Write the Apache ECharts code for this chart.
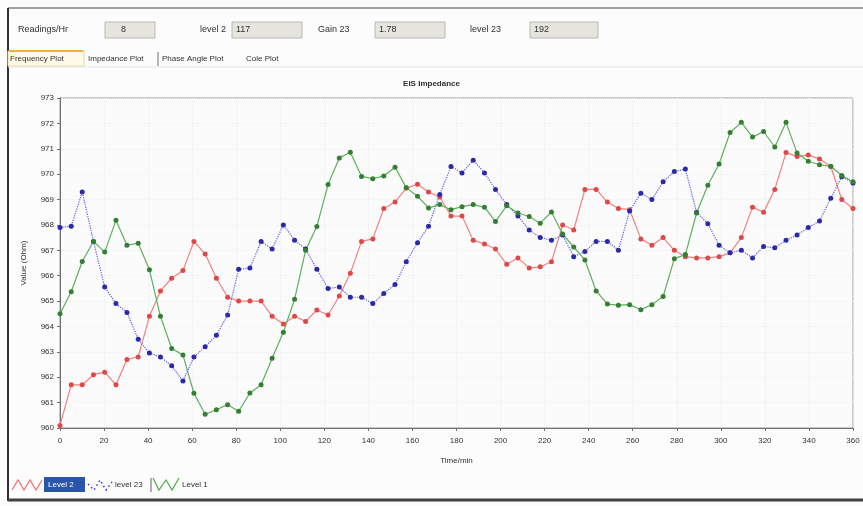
<!DOCTYPE html>
<html>
<head>
<meta charset="utf-8">
<script src="https://cdn.jsdelivr.net/npm/echarts@6/dist/echarts.min.js"></script>
<style>
html,body{margin:0;padding:0;background:#fcfcfc;}
#c{width:863px;height:506px;}
</style>
</head>
<body>
<div id="c"></div>
<script>
// ---- data ----
var xValues = [0,5.1,10.1,15.2,20.3,25.4,30.4,35.5,40.6,45.6,50.7,55.8,60.8,65.9,71.0,76.1,81.1,86.2,91.3,96.3,
  101.4,106.5,111.5,116.6,121.7,126.8,131.8,136.9,142.0,147.0,152.1,157.2,162.3,167.3,172.4,177.5,182.5,187.6,192.7,197.7,
  202.8,207.9,213.0,218.0,223.1,228.2,233.2,238.3,243.4,248.5,253.5,258.6,263.7,268.7,273.8,278.9,283.9,289.0,294.1,299.2,
  304.2,309.3,314.4,319.4,324.5,329.6,334.6,339.7,344.8,349.9,354.9,360.0];
var seriesNames = ['Level 2', 'level 23', 'Level 1'];
var redValues = [960.1,961.7,961.7,962.1,962.2,961.7,962.7,962.8,964.4,965.4,965.9,966.2,967.35,966.85,965.9,965.15,965.0,965.0,965.0,964.4,
  964.1,964.4,964.2,964.65,964.45,965.2,966.1,967.35,967.45,968.65,968.9,969.45,969.6,969.3,969.1,968.35,968.35,967.4,967.25,967.05,
  966.45,966.7,966.3,966.35,966.55,968.0,967.8,969.4,969.4,968.9,968.65,968.6,967.45,967.2,967.5,967.0,966.75,966.7,966.7,966.75,
  966.9,967.5,968.7,968.5,969.4,970.85,970.7,970.75,970.6,970.3,969.0,968.65];
var blueValues = [967.9,967.95,969.3,967.35,965.55,964.9,964.55,963.5,962.95,962.8,962.45,961.85,962.8,963.2,963.65,964.45,966.25,966.3,967.35,967.05,
  968.0,967.4,967.05,966.25,965.5,965.55,965.15,965.15,964.9,965.3,965.65,966.55,967.3,967.95,969.2,970.3,970.05,970.55,970.05,969.4,
  968.8,968.35,967.8,967.5,967.4,967.6,966.75,966.95,967.35,967.35,967.0,968.55,969.25,969.0,969.7,970.1,970.2,968.5,968.05,967.2,
  966.9,967.0,966.7,967.15,967.1,967.4,967.6,967.9,968.15,969.05,969.9,969.65];
var greenValues = [964.5,965.37,966.56,967.35,966.93,968.18,967.2,967.28,966.23,964.4,963.13,962.88,961.37,960.54,960.72,960.92,960.66,961.38,961.7,962.75,
  963.77,965.07,967.0,967.94,969.59,970.64,970.86,969.91,969.82,969.93,970.27,969.46,969.13,968.67,968.8,968.6,968.72,968.8,968.7,968.13,
  968.76,968.47,968.33,968.07,968.51,967.64,967.13,966.62,965.4,964.88,964.84,964.86,964.66,964.86,965.18,966.67,966.83,968.47,969.56,970.4,
  971.64,972.04,971.46,971.68,971.07,972.04,970.83,970.51,970.37,970.31,969.95,969.7];

var chartTitle = 'EIS Impedance';
var xAxisName = 'Time/min';
var yAxisName = 'Value (Ohm)';
var controlLabels = ['Readings/Hr', 'level 2', 'Gain 23', 'level 23'];
var controlValues = ['8', '117', '1.78', '192'];
var tabLabels = ['Frequency Plot', 'Impedance Plot', 'Phase Angle Plot', 'Cole Plot'];

function pairs(vals){ return vals.map(function(v,i){ return [xValues[i], v]; }); }

var FONT = 'Liberation Sans, Arial, sans-serif';
var chart = echarts.init(document.getElementById('c'), null, {renderer:'canvas'});

var graphics = [];
// window frame
graphics.push({type:'rect', shape:{x:0,y:0,width:863,height:506}, style:{fill:'#fcfcfc'}, z:-10});
graphics.push({type:'line', shape:{x1:8,y1:8,x2:863,y2:8}, style:{stroke:'#a0a0a0', lineWidth:2}});
graphics.push({type:'line', shape:{x1:8,y1:8,x2:8,y2:501}, style:{stroke:'#303030', lineWidth:2}});
graphics.push({type:'line', shape:{x1:8,y1:500,x2:863,y2:500}, style:{stroke:'#404040', lineWidth:3}});

// top controls
var labelX = [18, 200, 318, 470];
var boxX = [105, 232, 375, 530];
var boxW = [50, 70, 70, 68];
for (var k=0;k<4;k++){
  graphics.push({type:'text', x:labelX[k], y:30, style:{text:controlLabels[k], font:'9px '+FONT, fill:'#303030', textVerticalAlign:'middle'}});
  graphics.push({type:'rect', shape:{x:boxX[k], y:22, width:boxW[k], height:16}, style:{fill:'#e6e6de', stroke:'#b8b8b0', lineWidth:1}});
  graphics.push({type:'text', x:boxX[k]+(k===0?16:4), y:30, style:{text:controlValues[k], font:'9px '+FONT, fill:'#303030', textVerticalAlign:'middle'}});
}
// tabs
var tabX = [10, 88, 162, 246];
graphics.push({type:'rect', shape:{x:8,y:51,width:76,height:15}, style:{fill:'#fffbe8', stroke:'#e8d8a0', lineWidth:1}});
graphics.push({type:'line', shape:{x1:9,y1:51,x2:83,y2:51}, style:{stroke:'#f0b040', lineWidth:2}});
graphics.push({type:'line', shape:{x1:158,y1:52,x2:158,y2:66}, style:{stroke:'#707070', lineWidth:1}});
for (var t=0;t<4;t++){
  graphics.push({type:'text', x:tabX[t], y:59, style:{text:tabLabels[t], font:'8px '+FONT, fill:'#303030', textVerticalAlign:'middle'}});
}
graphics.push({type:'line', shape:{x1:8,y1:67,x2:863,y2:67}, style:{stroke:'#e4e4e4', lineWidth:1}});

// legend (custom, like the app's)
graphics.push({type:'polyline', shape:{points:[[12,490],[18,480],[24,490],[30,480],[36,490],[42,480]]}, style:{stroke:'#f07070', lineWidth:1.2, fill:null}});
graphics.push({type:'rect', shape:{x:44,y:477,width:41,height:15}, style:{fill:'#2a55a8'}});
graphics.push({type:'text', x:48, y:485, style:{text:seriesNames[0], font:'8px '+FONT, fill:'#ffffff', textVerticalAlign:'middle'}});
graphics.push({type:'polyline', shape:{points:[[88,484],[94,490],[100,480],[106,490],[112,482]]}, style:{stroke:'#3030d0', lineWidth:1.5, lineDash:[1.5,3], fill:null}});
graphics.push({type:'text', x:115, y:485, style:{text:seriesNames[1], font:'8px '+FONT, fill:'#303030', textVerticalAlign:'middle'}});
graphics.push({type:'line', shape:{x1:151,y1:478,x2:151,y2:492}, style:{stroke:'#606060', lineWidth:1}});
graphics.push({type:'polyline', shape:{points:[[153,478],[159,490],[166,480],[172,490],[179,478]]}, style:{stroke:'#50a850', lineWidth:1.2, fill:null}});
graphics.push({type:'text', x:182, y:485, style:{text:seriesNames[2], font:'8px '+FONT, fill:'#303030', textVerticalAlign:'middle'}});

function lineSeries(name, vals, lineColor, markColor, dash){
  return {
    name: name, type:'line', data: pairs(vals),
    symbol:'circle', symbolSize:5, showSymbol:true,
    lineStyle:{color:lineColor, width:1.2, type:dash},
    itemStyle:{color:markColor, borderWidth:0},
    emphasis:{disabled:true}, animation:false, z:3
  };
}

var option = {
  animation:false,
  backgroundColor:'transparent',
  title:{text:chartTitle, left:'center', top:75, textStyle:{fontSize:8, fontWeight:'bold', color:'#303030', fontFamily:FONT}},
  grid:{left:60, right:10, top:98, bottom:78, show:true, backgroundColor:'#fbfbfb', borderColor:'#9a9a9a', borderWidth:1},
  xAxis:{
    type:'value', min:0, max:360, interval:20,
    name:xAxisName, nameLocation:'middle', nameGap:29,
    nameTextStyle:{fontSize:8, color:'#303030', fontFamily:FONT},
    axisLine:{show:true, lineStyle:{color:'#707070'}},
    axisTick:{show:true, length:3, lineStyle:{color:'#707070'}},
    axisLabel:{fontSize:8, color:'#303030', fontFamily:FONT, margin:9},
    splitLine:{show:true, lineStyle:{color:'#ececec', type:'dotted'}}
  },
  yAxis:{
    type:'value', min:960, max:973, interval:1,
    name:yAxisName, nameLocation:'middle', nameGap:32, nameRotate:90,
    nameTextStyle:{fontSize:8, color:'#303030', fontFamily:FONT},
    axisLine:{show:true, lineStyle:{color:'#707070'}},
    axisTick:{show:true, length:3, lineStyle:{color:'#707070'}},
    axisLabel:{fontSize:8, color:'#303030', fontFamily:FONT, margin:6},
    splitLine:{show:true, lineStyle:{color:'#f0f0f0', type:'dotted'}}
  },
  series:[
    lineSeries(seriesNames[0], redValues, '#f28080', '#e04848', 'solid'),
    lineSeries(seriesNames[1], blueValues, '#5a5ae8', '#2a2aa8', 'dotted'),
    lineSeries(seriesNames[2], greenValues, '#5cb05c', '#347f34', 'solid')
  ],
  graphic: graphics
};
chart.setOption(option);
</script>
</body>
</html>
